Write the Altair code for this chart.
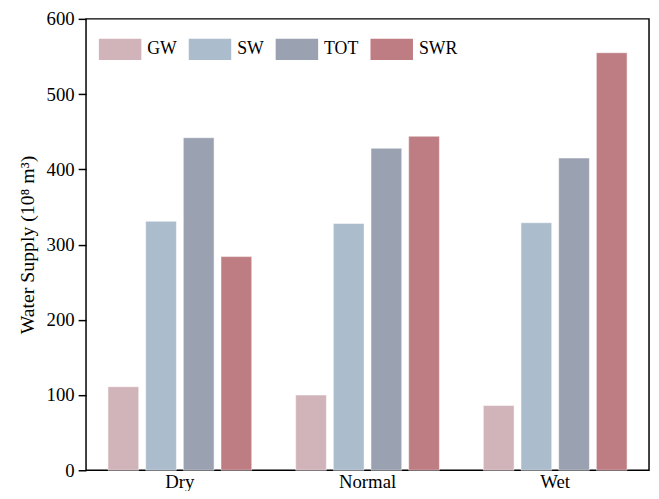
import altair as alt
import pandas as pd

periods = ["Dry", "Normal", "Wet"]
series = ["GW", "SW", "TOT", "SWR"]
gw = [111, 100, 86]
sw = [331, 328, 329]
tot = [442, 428, 415]
swr = [284, 444, 555]
colors = ["#d1b4b9", "#abbccd", "#9aa1b1", "#be7d83"]

rows = []
for name, vals in zip(series, [gw, sw, tot, swr]):
    for p, v in zip(periods, vals):
        rows.append({"period": p, "series": name, "value": v})
df = pd.DataFrame(rows)

font = "Liberation Serif"

chart = alt.Chart(df).mark_bar(stroke="#ffffff", strokeOpacity=0.5, strokeWidth=1).encode(
    x=alt.X("period:N", sort=periods, title=None,
            scale=alt.Scale(paddingInner=0.234, paddingOuter=0.117),
            axis=alt.Axis(labelAngle=0, ticks=False, labelPadding=2, domain=False)),
    xOffset=alt.XOffset("series:N", sort=series,
                        scale=alt.Scale(paddingInner=0.184, paddingOuter=0)),
    y=alt.Y("value:Q", title="Water Supply (10⁸ m³)",
            scale=alt.Scale(domain=[0, 600], nice=False),
            axis=alt.Axis(values=[0, 100, 200, 300, 400, 500, 600], tickSize=8,
                          tickColor="black", tickWidth=1.5, domain=False,
                          labelPadding=4, titlePadding=9, grid=False)),
    color=alt.Color("series:N", sort=series,
                    scale=alt.Scale(domain=series, range=colors),
                    legend=alt.Legend(title=None, orient="none", legendX=13, legendY=9,
                                      direction="horizontal",
                                      symbolType="M-1,-0.5H1V0.5H-1Z", symbolSize=1849,
                                      symbolStrokeWidth=0, symbolOpacity=1,
                                      labelFontSize=18, labelFont=font, labelColor="black",
                                      labelOffset=6, columnPadding=12, padding=0)),
).properties(
    width=570, height=457,
    autosize=alt.AutoSizeParams(type="none"),
    padding={"left": 79, "top": 8, "right": 2, "bottom": 18},
).configure_view(
    stroke="black", strokeWidth=1.5
).configure_axis(
    labelFont=font, titleFont=font, labelFontSize=19, titleFontSize=20,
    labelColor="black", titleColor="black", titleFontWeight="normal"
)

chart.save("out.html", embed_options={"renderer": "svg", "actions": False})
